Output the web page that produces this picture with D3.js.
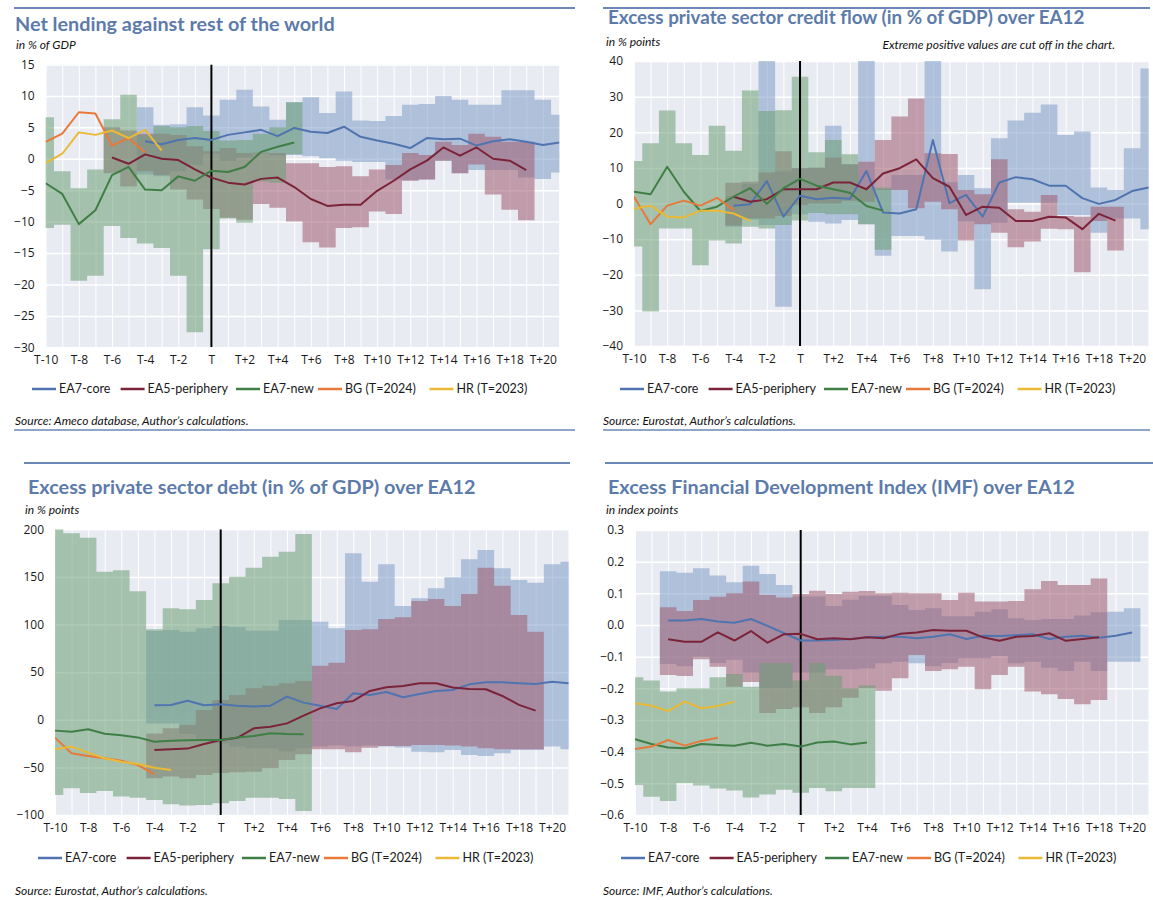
<!DOCTYPE html>
<html>
<head>
<meta charset="utf-8">
<script src="https://cdn.jsdelivr.net/npm/d3@7"></script>
<style>
body { margin: 0; background: #fff; }
</style>
</head>
<body>
<div id="chart"></div>
<script>
// periods T-10 ... T+21 (T+21 only half visible at the right edge, like the Excel original)
var periods = d3.range(-10, 22);
var cats = periods.map(function(k) { return k === 0 ? "T" : (k < 0 ? "T" + k : "T+" + k); });
var tickCats = cats.filter(function(d, i) { return i % 2 === 0 && i <= 30; });
var names = ["EA7-core", "EA5-periphery", "EA7-new", "BG (T=2024)", "HR (T=2023)"];
var lineColors = ["#4f74b0", "#7b2338", "#3f7f46", "#e8793a", "#eab935"];
var bandColors = ["#7f9dc7", "#9f5b6f", "#6c9f75"];

// ---- panel 1: net lending, % of GDP
var p1CoreStart = -4;
var p1CoreHi = [8.2,5.4,5.5,8.2,6.9,9.4,11.0,8.3,6.2,9.0,9.8,7.3,10.7,6.1,6.0,6.8,8.6,8.7,10.0,9.4,8.6,8.6,10.9,10.9,9.4,7.0];
var p1CoreLo = [-2.5,-2.8,-2.0,-1.0,0.8,-0.3,0.2,0.8,0.5,0.6,0.4,0.1,-0.3,-0.5,-0.5,-3.3,-3.4,-3.3,-0.3,-2.3,-1.8,-1.8,-1.8,-3.0,-3.2,-2.2];
var p1CoreLine = [2.8,2.3,3.0,3.3,3.0,3.8,4.2,4.6,3.6,4.9,4.3,4.1,5.1,3.5,2.9,2.4,1.7,3.3,3.1,3.2,2.1,2.8,3.1,2.7,2.2,2.6];
var p1PeriStart = -6;
var p1PeriHi = [5.0,4.5,4.0,4.0,3.8,2.0,1.2,1.7,0.9,1.0,0.9,-0.7,-0.7,-1.3,-1.2,-2.8,-1.7,-1.0,0.9,0.6,2.7,2.2,4.0,3.5,2.7,2.7];
var p1PeriLo = [-2.3,-4.4,-2.0,-2.6,-4.9,-6.5,-8.0,-9.4,-9.7,-7.2,-7.8,-10.0,-13.3,-14.1,-11.0,-10.9,-8.4,-8.8,-3.5,-3.3,-0.3,-2.3,-0.9,-5.7,-8.1,-9.8];
var p1PeriLine = [0.2,-0.8,0.7,0.0,-0.2,-1.7,-3.0,-3.8,-4.1,-3.2,-3.0,-4.5,-6.4,-7.5,-7.3,-7.3,-5.1,-3.5,-1.7,-0.3,1.8,0.5,1.8,0.0,-0.3,-1.8];
var p1NewStart = -10;
var p1NewHi = [6.6,-2.0,-4.7,-1.7,6.3,10.2,3.8,5.2,5.0,5.2,4.4,2.9,3.0,4.0,5.0,9.0];
var p1NewLo = [-11.0,-10.5,-19.4,-18.6,-10.7,-12.6,-13.5,-14.2,-18.6,-27.6,-14.4,-9.5,-10.2,-3.6,-3.8,0.7];
var p1NewLine = [-3.9,-5.6,-10.4,-8.2,-2.6,-1.3,-4.9,-5.0,-2.8,-3.5,-1.9,-2.1,-1.3,1.1,1.9,2.6];
var p1BG = [2.7,4.0,7.4,7.2,2.1,3.3,1.0];
var p1HR = [-0.7,0.8,4.2,3.8,4.5,3.3,4.6,1.3];
var p1Ticks = [-30,-25,-20,-15,-10,-5,0,5,10,15];

// ---- panel 2: excess private sector credit flow, % points
var p2CoreStart = -4;
var p2CoreHi = [2.0,5.5,45,9,10,10,21.8,11,45,4,8,8,45,6,8.0,4.3,18.3,23.3,25.5,27.8,19.2,20.2,4.5,3.8,15.5,37.9];
var p2CoreLo = [-6.5,-4.5,-6.0,-29.0,-3.0,-5.1,-5.6,-4.6,-5.8,-14.7,-9.1,-9.1,-10.2,-13.5,-5,-24.1,-5.4,0.2,0.2,0.2,-3.2,-3.2,-8.2,-4.2,-4.2,-7.2];
var p2CoreLine = [-0.6,-0.2,6.3,-3.7,2.2,1.2,1.6,1.3,9.1,-2.5,-2.8,-1.6,17.8,0.1,2.4,-3.7,5.9,7.4,6.8,5.0,5.0,1.5,-0.1,1.0,3.5,4.5];
var p2PeriStart = -4;
var p2PeriHi = [5.8,6.1,8.7,14.7,9.9,10.1,12.9,11.0,11.7,17.8,24.4,29.5,14.1,13.9,3.8,2.6,12.4,-1.6,-2.3,2.4,-3.5,-3.7,-0.9,-0.9];
var p2PeriLo = [-6.2,-4.2,-4.2,-3.5,-0.4,0.0,0.0,0.8,0.5,3.8,3.8,-1.3,0.5,-1.6,-10.4,-5.8,-8.2,-12.3,-10.7,-7.1,-7.2,-19.3,-4.9,-13.2];
var p2PeriLine = [1.9,0.5,1.2,4.0,4.0,4.0,5.9,5.9,4.0,8.4,9.9,12.4,7.1,4.7,-3.2,-0.9,-1.2,-4.9,-4.9,-3.7,-3.9,-7.2,-2.9,-4.8];
var p2NewStart = -10;
var p2NewHi = [11.9,16.9,26.1,16.9,13.6,21.8,14.8,31.7,26.0,26.2,35.6,14.4,17.8,13.8,4.5,4.5];
var p2NewLo = [-12.1,-30.3,-7.0,-7.0,-17.3,-10.4,-11.2,-6.5,-7.0,-6.0,-4.8,-2.7,-3.0,-3.0,-5.8,-13.0];
var p2NewLine = [3.3,2.6,10.3,3.3,-2.1,-0.9,1.9,4.3,-0.1,4.3,6.9,5.0,4.0,3.0,-0.7,-2.0];
var p2BG = [1.9,-5.8,-0.6,0.8,-0.6,1.6,-1.8];
var p2HR = [-1.5,-0.6,-3.7,-3.9,-2.0,-2.0,-2.8,-4.9];
var p2Ticks = [-40,-30,-20,-10,0,10,20,30,40];

// ---- panel 3: excess private sector debt, % points
var p3CoreStart = -4;
var p3CoreHi = [93.2,94.2,92.5,96,98.5,97.5,93.6,93.6,104.8,104.8,103,96,174.8,145,163.3,119.5,127.5,138,149.6,168.5,178.3,159,146.8,144,163.3,166];
var p3CoreLo = [-4,-4,-15,-20,-25,-28,-30,-30,-33,-30,-28,-27,-28,-27,-28,-29,-33.5,-34,-31.7,-37,-38,-35.2,-31.7,-31.7,-28.2,-31];
var p3CoreLine = [15.2,15.5,20,15.2,16.2,14.8,14,14.8,24.3,18,14.8,11.3,27.8,26,29.2,23.6,27,30.3,31.3,37.2,39.3,39.3,38.3,37.6,40,38.3];
var p3PeriStart = -4;
var p3PeriHi = [-14.3,-9,-5.6,10.2,20.7,26,33,35.8,38.3,40.7,56.8,60,94.3,95,105.8,107.6,124.7,126.8,119.5,132,159.7,140.8,110,92.5];
var p3PeriLo = [-61.5,-59.7,-61.5,-58,-56,-55,-54.5,-51,-42.2,-36.3,-31,-31,-34.2,-29.3,-27.5,-27.5,-26.5,-26.5,-27,-28,-30,-31,-31,-31];
var p3PeriLine = [-31.7,-31,-30.3,-25.4,-21.3,-18.9,-9,-7.4,-3.8,4.4,12,17.3,19.8,30.3,34.1,35.5,38.3,38.3,33.8,32.4,32,25,15.6,9.6];
var p3NewStart = -10;
var p3NewHi = [200,195.8,191,155.5,157,135,95,117,116,125.8,143.3,150.3,159.7,171.3,176.5,195];
var p3NewLo = [-79,-72,-77,-74.8,-80.7,-81.8,-84.2,-88.8,-90,-89.5,-87.7,-85.3,-81.8,-81.8,-83.2,-95.8];
var p3NewLine = [-11.4,-12.5,-10,-14.6,-16.3,-18.5,-23,-22,-21.6,-21.3,-21.3,-18.5,-17,-14.2,-15,-15.2];
var p3BG = [-18.8,-35.2,-38,-40.5,-43,-47.5,-57];
var p3HR = [-31,-28.2,-34.5,-40.5,-44,-46.4,-50.3,-52.7];
var p3Ticks = [-100,-50,0,50,100,150,200];

// ---- panel 4: excess financial development index, index points
var p4CoreStart = -8;
var p4CoreHi = [0.17,0.165,0.179,0.156,0.135,0.187,0.161,0.126,0.09,0.09,0.06,0.08,0.092,0.092,0.063,0.047,0.053,0.028,0.028,0.042,0.05,0.021,0.016,0.019,0.019,0.03,0.04,0.042,0.053];
var p4CoreLo = [-0.123,-0.13,-0.1,-0.12,-0.11,-0.15,-0.2,-0.2,-0.15,-0.15,-0.14,-0.14,-0.137,-0.121,-0.116,-0.121,-0.13,-0.12,-0.105,-0.105,-0.098,-0.121,-0.116,-0.135,-0.145,-0.116,-0.145,-0.116,-0.116];
var p4CoreLine = [0.014,0.014,0.019,0.011,0.007,0.019,-0.003,-0.026,-0.049,-0.049,-0.047,-0.044,-0.039,-0.037,-0.037,-0.042,-0.037,-0.029,-0.044,-0.034,-0.035,-0.032,-0.029,-0.044,-0.037,-0.034,-0.04,-0.034,-0.024];
var p4PeriStart = -8;
var p4PeriHi = [0.056,0.044,0.079,0.089,0.1,0.137,0.095,0.087,0.098,0.108,0.098,0.105,0.107,0.1,0.102,0.1,0.1,0.079,0.102,0.074,0.074,0.076,0.113,0.139,0.126,0.126,0.147];
var p4PeriLo = [-0.158,-0.161,-0.108,-0.132,-0.195,-0.18,-0.278,-0.265,-0.26,-0.278,-0.26,-0.23,-0.2,-0.208,-0.168,-0.095,-0.145,-0.14,-0.132,-0.203,-0.158,-0.132,-0.21,-0.219,-0.234,-0.25,-0.237];
var p4PeriLine = [-0.045,-0.053,-0.053,-0.023,-0.049,-0.019,-0.056,-0.029,-0.028,-0.045,-0.042,-0.045,-0.039,-0.042,-0.028,-0.024,-0.016,-0.018,-0.018,-0.039,-0.05,-0.037,-0.035,-0.026,-0.05,-0.044,-0.039];
var p4NewStart = -10;
var p4NewHi = [-0.165,-0.175,-0.21,-0.2,-0.2,-0.165,-0.155,-0.195,-0.12,-0.12,-0.175,-0.12,-0.16,-0.2,-0.19];
var p4NewLo = [-0.505,-0.542,-0.556,-0.5,-0.507,-0.516,-0.523,-0.545,-0.535,-0.52,-0.53,-0.515,-0.525,-0.515,-0.515];
var p4NewLine = [-0.361,-0.376,-0.387,-0.389,-0.376,-0.379,-0.381,-0.372,-0.381,-0.376,-0.384,-0.371,-0.368,-0.377,-0.371];
var p4BG = [-0.392,-0.384,-0.363,-0.381,-0.366,-0.356];
var p4HR = [-0.247,-0.255,-0.272,-0.242,-0.263,-0.256,-0.242];
var p4Ticks = [-0.6,-0.5,-0.4,-0.3,-0.2,-0.1,0,0.1,0.2,0.3];

function pts(start, vals) {
    return vals.map(function(v, i) { return {c: cats[start + 10 + i], v: v}; });
}
function band(start, lo, hi) {
    return lo.map(function(v, i) { return {c: cats[start + 10 + i], lo: v, hi: hi[i]}; });
}

var panels = [
    {l: 45.7, r: 559.4, t: 64.5, b: 347.3, domain: [-30, 15], ticks: p1Ticks, fmt: d3.format("d"),
     title: "Net lending against rest of the world", tx: 15, ty: 31, tsize: 19.8,
     sub: "in % of GDP", sx: 16, sy: 49,
     rule: [14, 575, 8], rule2: 430, legY: 389, legX: 59,
     source: "Source: Ameco database, Author\u2019s calculations.", srcX: 15, srcY: 425,
     bands: [band(p1CoreStart, p1CoreLo, p1CoreHi), band(p1PeriStart, p1PeriLo, p1PeriHi), band(p1NewStart, p1NewLo, p1NewHi)],
     lines: [pts(p1CoreStart, p1CoreLine), pts(p1PeriStart, p1PeriLine), pts(p1NewStart, p1NewLine), pts(-10, p1BG), pts(-10, p1HR)]},
    {l: 634, r: 1148.7, t: 61, b: 346, domain: [-40, 40], ticks: p2Ticks, fmt: d3.format("d"),
     title: "Excess private sector credit flow (in % of GDP) over EA12", tx: 608, ty: 24, tsize: 18.8,
     sub: "in % points", sx: 606, sy: 46,
     note: "Extreme positive values are cut off in the chart.", nx: 1115, ny: 49,
     rule: [603, 1150, 8], rule2: 430, legY: 389, legX: 647,
     source: "Source: Eurostat, Author\u2019s calculations.", srcX: 603, srcY: 425,
     bands: [band(p2CoreStart, p2CoreLo, p2CoreHi), band(p2PeriStart, p2PeriLo, p2PeriHi), band(p2NewStart, p2NewLo, p2NewHi)],
     lines: [pts(p2CoreStart, p2CoreLine), pts(p2PeriStart, p2PeriLine), pts(p2NewStart, p2NewLine), pts(-10, p2BG), pts(-10, p2HR)]},
    {l: 55, r: 568.7, t: 529.3, b: 815, domain: [-100, 200], ticks: p3Ticks, fmt: d3.format("d"),
     title: "Excess private sector debt (in % of GDP) over EA12", tx: 28, ty: 494, tsize: 19.8,
     sub: "in % points", sx: 25, sy: 514,
     rule: [24, 570, 463], legY: 858, legX: 65,
     source: "Source: Eurostat, Author\u2019s calculations.", srcX: 15, srcY: 895,
     bands: [band(p3CoreStart, p3CoreLo, p3CoreHi), band(p3PeriStart, p3PeriLo, p3PeriHi), band(p3NewStart, p3NewLo, p3NewHi)],
     lines: [pts(p3CoreStart, p3CoreLine), pts(p3PeriStart, p3PeriLine), pts(p3NewStart, p3NewLine), pts(-10, p3BG), pts(-10, p3HR)]},
    {l: 635, r: 1148.7, t: 530, b: 815, domain: [-0.6, 0.3], ticks: p4Ticks, fmt: d3.format(".1f"),
     title: "Excess Financial Development Index (IMF) over EA12", tx: 608, ty: 494, tsize: 19.8,
     sub: "in index points", sx: 606, sy: 514,
     rule: [605, 1153, 463], legY: 858, legX: 648,
     source: "Source: IMF, Author\u2019s calculations.", srcX: 603, srcY: 895,
     bands: [band(p4CoreStart, p4CoreLo, p4CoreHi), band(p4PeriStart, p4PeriLo, p4PeriHi), band(p4NewStart, p4NewLo, p4NewHi)],
     lines: [pts(p4CoreStart, p4CoreLine), pts(p4PeriStart, p4PeriLine), pts(p4NewStart, p4NewLine), pts(-10, p4BG), pts(-10, p4HR)]}
];

var svg = d3.select("#chart").append("svg")
    .attr("width", 1153)
    .attr("height", 900);

var legOffsets = [0, 88.6, 204, 286, 397.5];
var ruleColor = "#6b88b6", titleColor = "#5c7bab";

panels.forEach(function(p, idx) {
    var x = d3.scalePoint().domain(cats).range([p.l, p.r]);
    var y = d3.scaleLinear().domain(p.domain).range([p.b, p.t]);
    var step = x.step();
    var g = svg.append("g");

    svg.append("clipPath").attr("id", "clip" + idx)
        .append("rect").attr("x", p.l).attr("y", p.t).attr("width", p.r - p.l).attr("height", p.b - p.t);

    // rules and texts
    g.append("line").attr("x1", p.rule[0]).attr("x2", p.rule[1]).attr("y1", p.rule[2]).attr("y2", p.rule[2])
        .attr("stroke", ruleColor).attr("stroke-width", 2);
    if (p.rule2) g.append("line").attr("x1", p.rule[0]).attr("x2", p.rule[1]).attr("y1", p.rule2).attr("y2", p.rule2)
        .attr("stroke", ruleColor).attr("stroke-width", 1.5);
    g.append("text").attr("x", p.tx).attr("y", p.ty).text(p.title)
        .style("font-family", "Lato, sans-serif").style("font-weight", 700).style("font-size", p.tsize + "px").attr("fill", titleColor);
    g.append("text").attr("x", p.sx).attr("y", p.sy).text(p.sub)
        .style("font-family", "Lato, sans-serif").style("font-style", "italic").style("font-size", "12px").attr("fill", "#111");
    if (p.note) g.append("text").attr("x", p.nx).attr("y", p.ny).attr("text-anchor", "end").text(p.note)
        .style("font-family", "Lato, sans-serif").style("font-style", "italic").style("font-size", "12px").attr("fill", "#111");
    g.append("text").attr("x", p.srcX).attr("y", p.srcY).text(p.source)
        .style("font-family", "Lato, sans-serif").style("font-style", "italic").style("font-size", "12px").attr("fill", "#111");

    // plot background + grid
    g.append("rect").attr("x", p.l).attr("y", p.t).attr("width", p.r - p.l).attr("height", p.b - p.t).attr("fill", "#e9ebf2");
    g.append("g").attr("transform", "translate(" + p.l + ",0)")
        .call(d3.axisLeft(y).tickValues(p.ticks).tickSize(-(p.r - p.l)).tickFormat(""))
        .call(function(s) { s.select(".domain").remove(); s.selectAll("line").attr("stroke", "#fff").attr("stroke-width", 1.5); });
    g.append("g").attr("transform", "translate(0," + p.b + ")")
        .call(d3.axisBottom(x).tickSize(-(p.b - p.t)).tickFormat(""))
        .call(function(s) { s.select(".domain").remove(); s.selectAll("line").attr("stroke", "#fff").attr("stroke-width", 1); });

    // min-max bands as stepped areas
    var plot = g.append("g").attr("clip-path", "url(#clip" + idx + ")");
    var area = d3.area()
        .x(function(d) { return d.x; })
        .y0(function(d) { return y(d.lo); })
        .y1(function(d) { return y(d.hi); });
    p.bands.forEach(function(b, i) {
        var steps = [];
        b.forEach(function(d) {
            steps.push({x: x(d.c) - step / 2, lo: d.lo, hi: d.hi});
            steps.push({x: x(d.c) + step / 2, lo: d.lo, hi: d.hi});
        });
        plot.append("path").attr("d", area(steps)).attr("fill", bandColors[i]).attr("fill-opacity", 0.55);
    });

    // T marker
    plot.append("line").attr("x1", x("T")).attr("x2", x("T")).attr("y1", p.t).attr("y2", p.b)
        .attr("stroke", "#000").attr("stroke-width", 2);

    var line = d3.line().x(function(d) { return x(d.c); }).y(function(d) { return y(d.v); });
    p.lines.forEach(function(l, i) {
        plot.append("path").attr("d", line(l)).attr("fill", "none")
            .attr("stroke", lineColors[i]).attr("stroke-width", 2).attr("stroke-linejoin", "round");
    });

    // axes labels
    var ya = g.append("g").attr("transform", "translate(" + p.l + ",0)")
        .call(d3.axisLeft(y).tickValues(p.ticks).tickSize(0).tickPadding(11).tickFormat(p.fmt));
    var xa = g.append("g").attr("transform", "translate(0," + p.b + ")")
        .call(d3.axisBottom(x).tickValues(tickCats).tickSize(0).tickPadding(8));
    [ya, xa].forEach(function(a) {
        a.select(".domain").remove();
        a.selectAll("text").style("font-family", "'Open Sans', sans-serif").style("font-size", "12px").attr("fill", "#1a1a1a");
    });

    // legend
    var leg = g.append("g").selectAll("g").data(names).enter().append("g")
        .attr("transform", function(d, i) { return "translate(" + (p.legX + legOffsets[i]) + "," + p.legY + ")"; });
    leg.append("line").attr("x1", -27).attr("x2", -3).attr("y1", 0).attr("y2", 0)
        .attr("stroke", function(d, i) { return lineColors[i]; }).attr("stroke-width", 2.5);
    leg.append("text").attr("x", 0).attr("dy", "0.35em").text(function(d) { return d; })
        .style("font-family", "Lato, sans-serif").style("font-size", "12.5px").attr("fill", "#1a1a1a");
});
</script>
</body>
</html>
